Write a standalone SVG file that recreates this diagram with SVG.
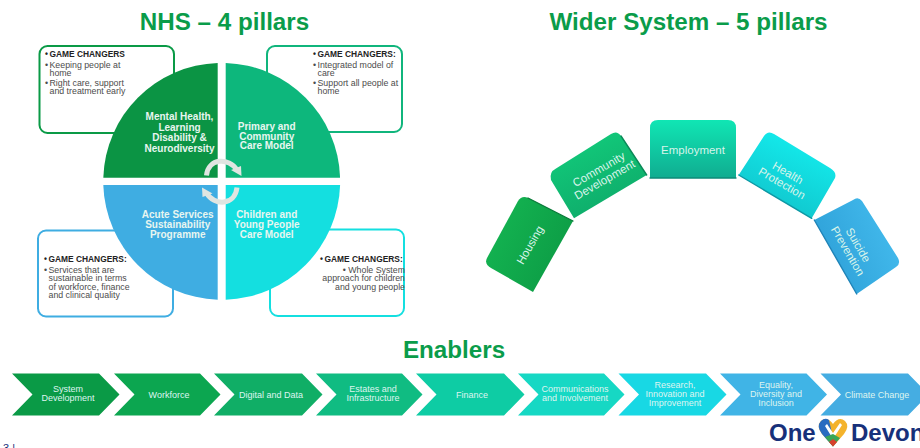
<svg xmlns="http://www.w3.org/2000/svg" width="920" height="448" viewBox="0 0 920 448">
<style>
text{font-family:"Liberation Sans",Arial,sans-serif}
.title{font-size:24.2px;font-weight:700;fill:#0a9c4a;text-anchor:middle}
.box{fill:#fff;stroke-width:2}
.gc{font-size:8.4px;font-weight:700;fill:#222}
.body{font-size:8.8px;fill:#4c4c4c}
.q{font-size:10px;font-weight:700;fill:#e8f6f0;text-anchor:middle}
.w{font-size:11.5px;fill:#d8f4ea;text-anchor:middle}
.e{font-size:9px;fill:#dff5f0;text-anchor:middle}
.arc{fill:none;stroke:#e0e5e1;stroke-width:5}
.edge{fill:none;stroke-width:1.4;stroke-linecap:round}
</style>
<defs>
<linearGradient id="g1" x1="0" y1=".25" x2="1" y2=".75"><stop offset="0" stop-color="#14b552"/><stop offset="1" stop-color="#0c9a44"/></linearGradient>
<linearGradient id="g2" x1=".25" y1="0" x2=".75" y2="1"><stop offset="0" stop-color="#12cc7c"/><stop offset="1" stop-color="#0ea868"/></linearGradient>
<linearGradient id="g3" x1="0" y1="0" x2="0" y2="1"><stop offset="0" stop-color="#10e6b4"/><stop offset="1" stop-color="#10ac90"/></linearGradient>
<linearGradient id="g4" x1=".75" y1="0" x2=".25" y2="1"><stop offset="0" stop-color="#14f0f0"/><stop offset="1" stop-color="#10c0c8"/></linearGradient>
<linearGradient id="g5" x1="1" y1=".25" x2="0" y2=".75"><stop offset="0" stop-color="#44bcee"/><stop offset="1" stop-color="#2c9ed6"/></linearGradient>
</defs>
<rect width="920" height="448" fill="#fff"/>
<text class="title" x="224.5" y="30">NHS – 4 pillars</text>
<text class="title" x="688.5" y="30">Wider System – 5 pillars</text>
<text class="title" x="454" y="358">Enablers</text>

<g id="box-tl"><rect class="box" x="39.5" y="46" width="134.5" height="87" rx="8" stroke="#0a9a46"/>
<text class="gc" x="45" y="57">•</text><text class="gc" x="49.5" y="57">GAME CHANGERS</text>
<text class="body"><tspan x="45" y="67.5">•</tspan><tspan x="49.5" y="67.5">Keeping people at</tspan><tspan x="49.5" y="76">home</tspan><tspan x="45" y="85.5">•</tspan><tspan x="49.5" y="85.5">Right care, support</tspan><tspan x="49.5" y="94">and treatment early</tspan></text></g>
<g id="box-tr"><rect class="box" x="267" y="46" width="135" height="86" rx="8" stroke="#10b57c"/>
<text class="gc" x="313" y="57">•</text><text class="gc" x="317.5" y="57">GAME CHANGERS:</text>
<text class="body"><tspan x="313" y="67.5">•</tspan><tspan x="317.5" y="67.5">Integrated model of</tspan><tspan x="317.5" y="76">care</tspan><tspan x="313" y="85.5">•</tspan><tspan x="317.5" y="85.5">Support all people at</tspan><tspan x="317.5" y="94">home</tspan></text></g>
<g id="box-bl"><rect class="box" x="38" y="230.5" width="135" height="86" rx="8" stroke="#3fade2"/>
<text class="gc" x="44" y="262">•</text><text class="gc" x="48.5" y="262">GAME CHANGERS:</text>
<text class="body"><tspan x="44" y="272.5">•</tspan><tspan x="48.5" y="272.5">Services that are</tspan><tspan x="48.5" y="281">sustainable in terms</tspan><tspan x="48.5" y="289.5">of workforce, finance</tspan><tspan x="48.5" y="298">and clinical quality</tspan></text></g>
<g id="box-br"><rect class="box" x="270" y="229.5" width="134" height="86.5" rx="8" stroke="#14dfe0"/>
<text class="gc" x="320" y="262">•</text><text class="gc" x="324.5" y="262">GAME CHANGERS:</text>
<text class="body" text-anchor="end"><tspan x="405" y="272.5">• Whole System</tspan><tspan x="405" y="281">approach for children</tspan><tspan x="405" y="289.5">and young people</tspan></text></g>

<g id="pillar-mental-health"><path d="M217.7 62.9A118.5 118.5 0 0 0 103.3 177.7H217.7Z" fill="#0b9444"/>
<text class="q"><tspan x="179.5" y="120">Mental Health,</tspan><tspan x="179.5" y="131">Learning</tspan><tspan x="179.5" y="141">Disability &amp;</tspan><tspan x="179.5" y="152">Neurodiversity</tspan></text></g>
<g id="pillar-primary-care"><path d="M225.7 62.9A118.5 118.5 0 0 1 340.1 177.7H225.7Z" fill="#0db77c"/>
<text class="q"><tspan x="266.7" y="130">Primary and</tspan><tspan x="266.7" y="139.5">Community</tspan><tspan x="266.7" y="149">Care Model</tspan></text></g>
<g id="pillar-acute"><path d="M217.7 299.7A118.5 118.5 0 0 1 103.3 185H217.7Z" fill="#3fade2"/>
<text class="q"><tspan x="177.7" y="218">Acute Services</tspan><tspan x="177.7" y="228">Sustainability</tspan><tspan x="177.7" y="237.5">Programme</tspan></text></g>
<g id="pillar-children"><path d="M225.7 299.7A118.5 118.5 0 0 0 340.1 185H225.7Z" fill="#14dfe0"/>
<text class="q"><tspan x="266.7" y="218">Children and</tspan><tspan x="266.7" y="228">Young People</tspan><tspan x="266.7" y="237.5">Care Model</tspan></text></g>

<g id="connectors">
<path class="arc" d="M206.5 175.5C208 158 229 157 237 170"/><polygon fill="#e0e5e1" points="231,170 241,166 241.5,176"/>
<path class="arc" d="M237 187.5C235 206 214 206 206.5 193"/><polygon fill="#e0e5e1" points="212.5,193.5 202.5,197 202,187.5"/>
</g>

<g id="wider-housing"><path d="M518 201Q522 195 528 198L573 221L533 292L491 268Q484 264 487 258Z" fill="url(#g1)"/>
<path class="edge" stroke="#0a7a3a" d="M528 198L573 221"/>
<text class="w" transform="translate(530 245) rotate(-60)" y="4">Housing</text></g>
<g id="wider-community"><path d="M551 180Q549 172 556 168.5L611 134Q617 130 621 136L646.7 175L574 218.3Z" fill="url(#g2)"/>
<path class="edge" stroke="#0a8a58" d="M621 136L646.7 175"/>
<text class="w" transform="translate(601.7 174.5) rotate(-30)"><tspan x="0" y="-2">Community</tspan><tspan x="0" y="10">Development</tspan></text></g>
<g id="wider-employment"><path d="M650 178V128Q650 120 658 120H728Q736 120 736 128V178Z" fill="url(#g3)"/>
<path class="edge" stroke="#0c8a78" d="M650 178H736"/>
<text class="w" x="693" y="154">Employment</text></g>
<g id="wider-health"><path d="M764 136Q768 130 774 134L830 168Q837 172 835 178L811.7 218.3L738.7 175Z" fill="url(#g4)"/>
<path class="edge" stroke="#0c98a4" d="M738.7 175L811.7 218.3"/>
<text class="w" transform="translate(785 178) rotate(30)"><tspan x="0" y="-2">Health</tspan><tspan x="0" y="10">Protection</tspan></text></g>
<g id="wider-suicide"><path d="M853 200Q858 196 862 201L898 258Q901 264 896 267L856.7 294L814.3 220Z" fill="url(#g5)"/>
<path class="edge" stroke="#1f84b8" d="M814.3 220L856.7 294"/>
<text class="w" transform="translate(853 248) rotate(60)"><tspan x="0" y="-2">Suicide</tspan><tspan x="0" y="10">Prevention</tspan></text></g>

<g id="en-1"><polygon points="12,373.5 99,373.5 119.5,394.5 99,415.5 12,415.5 32.5,394.5" fill="#0a9a46"/><text class="e"><tspan x="68" y="392">System</tspan><tspan x="68" y="401">Development</tspan></text></g>
<g id="en-2"><polygon points="114,373.5 200,373.5 220.5,394.5 200,415.5 114,415.5 134.5,394.5" fill="#0ca650"/><text class="e" x="169" y="397.5">Workforce</text></g>
<g id="en-3"><polygon points="214,373.5 302,373.5 322.5,394.5 302,415.5 214,415.5 234.5,394.5" fill="#10ae66"/><text class="e" x="271" y="397.5">Digital and Data</text></g>
<g id="en-4"><polygon points="316,373.5 402,373.5 422.5,394.5 402,415.5 316,415.5 336.5,394.5" fill="#10bc82"/><text class="e"><tspan x="373" y="392">Estates and</tspan><tspan x="373" y="401">Infrastructure</tspan></text></g>
<g id="en-5"><polygon points="416,373.5 504,373.5 524.5,394.5 504,415.5 416,415.5 436.5,394.5" fill="#0ecca4"/><text class="e" x="472" y="397.5">Finance</text></g>
<g id="en-6"><polygon points="518,373.5 604,373.5 624.5,394.5 604,415.5 518,415.5 538.5,394.5" fill="#16d8c4"/><text class="e"><tspan x="575" y="392">Communications</tspan><tspan x="575" y="401">and Involvement</tspan></text></g>
<g id="en-7"><polygon points="618.5,373.5 706,373.5 726.5,394.5 706,415.5 618.5,415.5 639,394.5" fill="#18d8e4"/><text class="e"><tspan x="675" y="388">Research,</tspan><tspan x="675" y="397">Innovation and</tspan><tspan x="675" y="406">Improvement</tspan></text></g>
<g id="en-8"><polygon points="720,373.5 806.5,373.5 827,394.5 806.5,415.5 720,415.5 740.5,394.5" fill="#40b4e6"/><text class="e"><tspan x="776" y="388">Equality,</tspan><tspan x="776" y="397">Diversity and</tspan><tspan x="776" y="406">Inclusion</tspan></text></g>
<g id="en-9"><polygon points="820.5,373.5 908,373.5 928.5,394.5 908,415.5 820.5,415.5 841,394.5" fill="#45ade2"/><text class="e" x="877" y="397.5">Climate Change</text></g>

<g id="logo">
<text x="769" y="440.5" font-size="24" font-weight="700" fill="#17307a">One</text>
<path d="M833 446.5L822 434Q816 426 821 421Q827 416 833 424Q839 416 845 421Q850 426 844 434Z" fill="#f4b32c"/>
<path d="M833 446.5L822 434Q816 426 821 421Q825 417 829 420L833 438Z" fill="#2a6cc0"/>
<path d="M827 424L833 433L840 423L842 425L833 439L825 426Z" fill="#fff"/>
<path d="M825 437L833 446.5L840 438L833 434Z" fill="#3aa655"/>
<path d="M829 442L833 446.5L837 442L833 439Z" fill="#d8402c"/>
<text x="851" y="440.5" font-size="24" font-weight="700" fill="#17307a">Devon</text>
</g>
<text x="3" y="452" font-size="11" fill="#17307a">3 |</text>
</svg>
